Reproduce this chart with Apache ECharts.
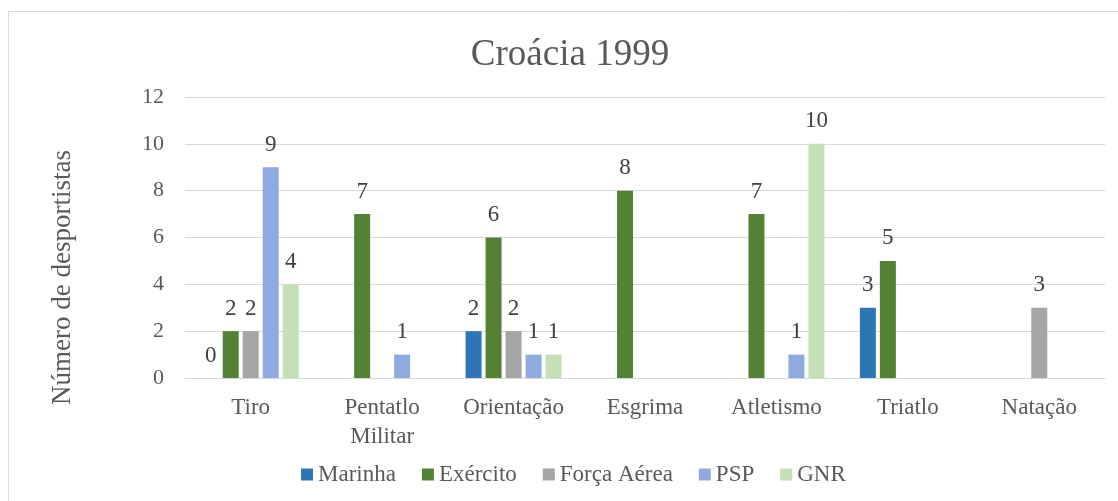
<!DOCTYPE html>
<html>
<head>
<meta charset="utf-8">
<script src="https://cdn.jsdelivr.net/npm/echarts@6/dist/echarts.min.js"></script>
<style>
html,body{margin:0;padding:0;background:#fff;}
#c{width:1118px;height:501px;}
</style>
</head>
<body>
<div id="c"></div>
<script>
const categories = ['Tiro', 'Pentatlo\nMilitar', 'Orientação', 'Esgrima', 'Atletismo', 'Triatlo', 'Natação'];
const marinha   = [0, null, 2, null, null, 3, null];
const exercito  = [2, 7, 6, 8, 7, 5, null];
const forcaAerea= [2, null, 2, null, null, null, 3];
const psp       = [9, 1, 1, null, 1, null, null];
const gnr       = [4, null, 1, null, 10, null, null];
const yTicks = [0, 2, 4, 6, 8, 10, 12];

const font = 'Liberation Serif';
const seriesDefs = [
  ['Marinha', marinha, '#2e75b6'],
  ['Exército', exercito, '#548235'],
  ['Força Aérea', forcaAerea, '#a5a5a5'],
  ['PSP', psp, '#8faadc'],
  ['GNR', gnr, '#c5e0b4']
];

const chart = echarts.init(document.getElementById('c'));
chart.setOption({
  animation: false,
  textStyle: {fontFamily: font},
  graphic: [{
    type: 'rect', shape: {x: 8.5, y: 11.5, width: 1200, height: 600},
    style: {fill: 'none', stroke: '#d9d9d9', lineWidth: 1}, silent: true
  }],
  title: {
    text: 'Croácia 1999', left: 565, top: 32, textAlign: 'center',
    textStyle: {fontFamily: font, fontSize: 37, fontWeight: 'normal', color: '#595959'}
  },
  legend: {
    top: 458, left: 296, itemWidth: 12, itemHeight: 12, itemGap: 26,
    icon: 'rect',
    textStyle: {fontFamily: font, fontSize: 23, color: '#595959'},
    data: seriesDefs.map(s => s[0])
  },
  grid: {left: 185, right: 13, top: 97, bottom: 123},
  xAxis: {
    type: 'category', data: categories,
    axisLine: {lineStyle: {color: '#d9d9d9'}},
    axisTick: {show: false},
    axisLabel: {fontFamily: font, fontSize: 23, color: '#595959', margin: 15, lineHeight: 29}
  },
  yAxis: {
    type: 'value', min: 0, max: 12, interval: 2,
    name: 'Número de desportistas', nameLocation: 'middle', nameGap: 109,
    nameTextStyle: {fontFamily: font, fontSize: 27, color: '#595959', padding: [0, 80, 0, 0]},
    axisLabel: {fontFamily: font, fontSize: 22, color: '#595959', margin: 21,
      formatter: v => yTicks.includes(v) ? String(v) : ''},
    splitLine: {lineStyle: {color: '#d9d9d9'}},
    axisLine: {show: false}, axisTick: {show: false}
  },
  series: seriesDefs.map(s => ({
    name: s[0], type: 'bar', data: s[1], barWidth: 16, barGap: '25%',
    itemStyle: {color: s[2]},
    label: {show: true, position: 'top', distance: 11, fontFamily: font, fontSize: 23, color: '#404040'}
  }))
});
</script>
</body>
</html>
